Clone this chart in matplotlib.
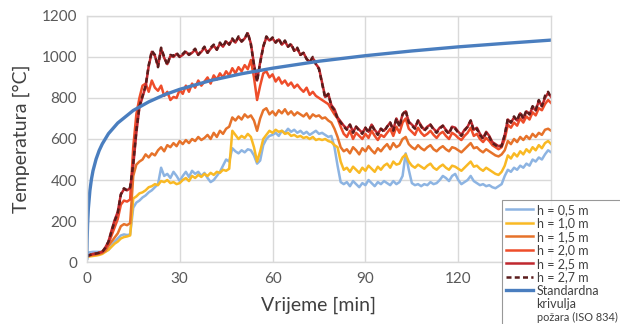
import numpy as np
import matplotlib
matplotlib.use("Agg")
import matplotlib.pyplot as plt
from matplotlib.lines import Line2D

# ==== Data (one value per minute) ====
minute = np.arange(0, 151)

h05 = [45, 48, 50, 50, 50, 52,
       52, 60, 80, 100, 115,
       130, 135, 132, 135,
       265, 290, 300, 315, 325, 340,
       350, 365, 380, 460, 420, 430,
       410, 440, 420, 395, 420, 440, 415, 445, 430,
       440, 420, 435, 410, 390, 400, 420, 440, 470, 500,
       490, 555, 540, 530, 545, 535, 550,
       545, 520, 480, 495, 570,
       600, 615, 620, 630, 615, 640, 630, 650, 635,
       645, 630, 640, 625, 635, 620, 630, 640, 625,
       630, 620, 610, 615, 560, 470, 390,
       380, 390, 370, 395, 380, 365, 385, 375, 400, 385, 370, 390, 380, 395, 385, 375, 395, 380,
       390, 420, 530, 450, 385, 375, 380, 370, 380, 375, 390, 380, 385, 400, 420,
       410, 395, 420, 430, 400, 380, 390, 400, 420, 395, 385, 375, 380, 370, 375,
       365, 360, 370, 380, 420,
       450, 440, 460, 450, 470, 460, 480, 470, 500, 490, 510, 500, 525, 545, 535]

h10 = [25, 28, 30, 32, 35, 40,
       50, 60, 75, 90, 100,
       115, 122, 125, 130,
       310, 320, 335, 340, 350, 365,
       370, 380, 375, 395, 390, 400,
       385, 390, 380, 385, 400, 410, 395, 420, 410,
       425, 415, 430, 420, 435, 425, 440, 435, 450, 445,
       455, 640, 620, 600, 615, 605, 625,
       610, 560, 490, 540, 600,
       620, 640, 630, 645, 635, 640, 625, 630, 615,
       620, 610, 615, 605, 610, 600, 610, 595, 600,
       595, 600, 590, 585, 570, 560, 490,
       450, 460, 440, 465, 450, 435, 460, 445, 470, 455, 440, 465, 450, 470, 480, 460, 490, 475,
       480, 510, 525, 490, 470, 460, 475, 465, 455, 470, 480, 460, 450, 465, 475,
       460, 450, 470, 465, 455, 445, 460, 475, 490, 465, 470, 455, 445, 460, 450,
       440, 430, 425, 440, 470,
       520, 505, 530, 515, 540, 525, 550, 535, 560, 545, 570, 555, 580, 590, 575]

h15 = [30, 32, 35, 38, 40, 45,
       55, 80, 100, 120, 140,
       175, 185, 180, 190,
       420, 475, 490, 500, 525, 510,
       530, 520, 545, 560, 540, 570,
       560, 580, 565, 590, 575, 595, 580, 600, 590,
       610, 595, 605, 620, 600, 630, 610, 640, 625, 650,
       660, 705, 690, 710, 695, 720, 705,
       715, 690, 640, 700, 740,
       750, 720, 735, 715, 740, 725, 745, 720, 735,
       715, 730, 720, 710, 725, 700, 720, 710, 715,
       700, 705, 690, 680, 650, 610, 560,
       540, 550, 530, 560, 545, 525, 555, 540, 565, 545, 530, 555, 540, 560, 575, 550, 580, 560,
       570, 600, 610, 575, 560, 550, 570, 555, 545, 560, 570, 550, 540, 555, 565,
       550, 540, 560, 555, 545, 535, 550, 565, 580, 555, 560, 545, 535, 550, 540,
       530, 520, 515, 525, 545,
       590, 575, 600, 585, 610, 595, 615, 600, 625, 610, 630, 620, 645, 650, 640]

h20 = [30, 35, 38, 40, 45, 50,
       65, 90, 130, 170, 210,
       280, 300, 295, 305,
       560, 720, 800, 860, 870, 830,
       885, 850, 835, 860, 810, 830,
       790, 805, 800, 840, 820, 860, 830, 870, 850,
       885, 860, 880, 900, 870, 910, 890, 920, 900, 930,
       910, 945, 920, 950, 930, 960, 940,
       985, 900, 790, 860, 920,
       930, 900, 915, 880, 900, 870, 885, 860, 875,
       850, 865, 845, 830, 850, 815, 830, 810, 800,
       790, 780, 770, 745, 720, 700, 660,
       625, 610, 640, 600, 630, 615, 600, 625, 605, 640, 615, 595, 620, 610, 630, 650, 615, 660,
       630, 680, 700, 650, 635, 620, 655, 630, 615, 625, 640, 620, 605, 625, 635,
       615, 600, 630, 620, 605, 595, 615, 630, 655, 615, 625, 600, 585, 605, 590,
       570, 560, 550, 560, 600,
       670, 655, 680, 665, 700, 680, 710, 695, 730, 715, 750, 740, 770, 790, 775]

h25 = [30, 34, 40, 42, 46, 50,
       72, 100, 155, 205, 245,
       330, 355, 350, 360,
       470, 630, 755, 805, 855, 955,
       1025, 1005, 955, 1040, 995, 965,
       1005, 1000, 1015, 1000, 1010, 1025, 1010, 1020, 1035,
       1010, 1025, 1045, 1020, 1040, 1055, 1035, 1065, 1050, 1075,
       1060, 1085, 1070, 1095, 1075, 1090, 1115,
       1065, 965, 885, 975, 1050,
       1095, 1080, 1090, 1070, 1085, 1060, 1075, 1050, 1060,
       1030, 1040, 1010, 1020, 990, 975, 995, 965, 945,
       875, 805, 820, 765, 745, 705, 685,
       665, 650, 670, 635, 660, 645, 630, 655, 635, 670, 645, 625, 650, 640, 660, 680, 645, 700,
       665, 720, 735, 685, 670, 655, 690, 665, 645, 660, 670, 650, 635, 655, 665,
       645, 630, 660, 655, 635, 620, 645, 660, 690, 645, 655, 625, 605, 635, 615,
       585, 575, 565, 570, 620,
       695, 680, 705, 690, 725, 700, 735, 720, 755, 740, 785, 760, 800, 825, 805]

h27 = [30, 35, 40, 42, 45, 50,
       70, 100, 150, 200, 240,
       330, 360, 350, 365,
       480, 640, 760, 810, 860, 960,
       1030, 1010, 950, 1045, 1000, 960,
       1010, 1005, 1020, 1000, 1015, 1030, 1010, 1025, 1040,
       1010, 1030, 1050, 1020, 1045, 1060, 1035, 1070, 1050, 1080,
       1060, 1090, 1070, 1100, 1075, 1090, 1120,
       1060, 960, 880, 970, 1050,
       1100, 1080, 1095, 1070, 1090, 1060, 1080, 1050, 1065,
       1030, 1045, 1010, 1020, 990, 975, 1000, 965, 940,
       870, 800, 820, 760, 740, 700, 680,
       660, 645, 670, 630, 660, 640, 625, 655, 630, 670, 640, 620, 650, 635, 660, 680, 640, 700,
       660, 720, 740, 680, 665, 650, 690, 660, 640, 655, 670, 645, 630, 650, 665,
       640, 625, 660, 650, 630, 615, 640, 660, 690, 640, 650, 620, 600, 630, 610,
       580, 570, 560, 565, 620,
       700, 680, 710, 690, 730, 700, 740, 720, 760, 740, 790, 760, 810, 830, 800]

iso_t = [0, 0.1, 0.25, 0.5, 1, 1.5, 2, 3, 4, 5, 7, 10, 15, 20, 25, 30, 40, 50, 60,
         75, 90, 105, 120, 135, 150]
iso_temp = [20, 108, 184, 261, 349, 404, 445, 502, 544, 576, 626, 678, 739, 781, 815,
            842, 885, 918, 945, 979, 1006, 1029, 1049, 1066, 1082]

labels = ["h = 0,5 m", "h = 1,0 m", "h = 1,5 m", "h = 2,0 m", "h = 2,5 m", "h = 2,7 m",
          "Standardna", "krivulja", "požara (ISO 834)"]
boje = ["#8db4e2", "#f9b924", "#e6722a", "#ee4d2a", "#c0282e", "#5a1c1c", "#4a7ebf"]

x_ticks = [0, 30, 60, 90, 120]
y_ticks = [0, 200, 400, 600, 800, 1000, 1200]

# ==== Plot ====
plt.rcParams['font.family'] = ['Lato', 'DejaVu Sans']
fig = plt.figure(figsize=(6.2, 3.24), dpi=100)
ax = fig.add_axes([0.140, 0.191, 0.749, 0.760])

serije = [h05, h10, h15, h20, h25]
linije = []
for vals, lab, c in zip(serije, labels[:5], boje[:5]):
    l, = ax.plot(minute, vals, color=c, lw=1.8, label=lab, solid_joinstyle='round')
    linije.append(l)
l, = ax.plot(minute, h27, color=boje[5], lw=1.8, ls=(0, (2.0, 1.3)), label=labels[5])
linije.append(l)
l, = ax.plot(iso_t, iso_temp, color=boje[6], lw=2.4, label=labels[6])
linije.append(l)
# ostatak teksta legende (bez linije)
linije.append(Line2D([], [], color='none', label=labels[7]))
linije.append(Line2D([], [], color='none', label=labels[8]))

ax.set_xlim(0, 150)
ax.set_ylim(0, 1200)
ax.set_xticks(x_ticks)
ax.set_yticks(y_ticks)
ax.grid(True, color="#d9d9d9", lw=1.0)
ax.set_axisbelow(True)
for s in ax.spines.values():
    s.set_color("#d9d9d9")
    s.set_linewidth(1.0)
ax.tick_params(length=0, labelsize=11, labelcolor="#595959", pad=7)
ax.set_xlabel("Vrijeme [min]", fontsize=14, color="#404040", labelpad=8)
ax.set_ylabel("Temperatura [°C]", fontsize=14, color="#404040", labelpad=8)

leg = fig.legend(handles=linije, loc="upper left", bbox_to_anchor=(0.810, 0.383),
                 borderaxespad=0, fontsize=9, frameon=True, fancybox=False,
                 handlelength=2.2, handletextpad=0.25, labelspacing=0.12,
                 borderpad=0.3, labelcolor="#404040")
leg.get_texts()[-1].set_fontsize(7.9)
leg.get_frame().set_edgecolor("#7f7f7f")
leg.get_frame().set_linewidth(0.8)

fig.savefig("out.png", dpi=100)
